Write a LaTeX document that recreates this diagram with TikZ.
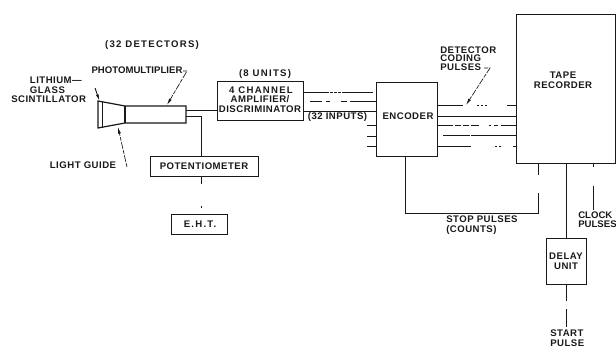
\documentclass[tikz,border=0pt]{standalone}
\usepackage{fontspec}
\setmainfont{Liberation Sans}
\usetikzlibrary{arrows.meta,positioning,calc}
\definecolor{ink}{RGB}{25,25,25}
\newcommand{\labfont}[1]{\fontsize{7.2}{7.3}\selectfont\bfseries\addfontfeature{LetterSpace=#1}}
\tikzset{
  blockbox/.style={draw=ink,line width=0.7pt,inner sep=0pt,align=center,font=\labfont{5},text=ink},
  lab/.style={inner sep=0pt,align=left,font=\labfont{5},text=ink},
  widelab/.style={lab,font=\labfont{13}},
  tightlab/.style={lab,font=\labfont{0}},
  wire/.style={draw=ink,line width=0.7pt},
  pointer/.style={wire,line width=0.5pt,dash pattern=on 3pt off 1pt on 5pt off 1pt},
  pointertip/.style={-{Latex[length=5pt,width=2.2pt]}},
}
\begin{document}
\begin{tikzpicture}[x=0.75pt,y=-0.75pt]
\useasboundingbox (0,0) rectangle (616,348);

\node[blockbox,minimum width=64.5pt,minimum height=29.25pt] (amp) at (260,100.5) {};
\node[widelab,align=center] (amplab1) at (261,90) {4 CHANNEL};
\node[lab,align=center] (amplab2) at (260,104) {AMPLIFIER/\\DISCRIMINATOR};
\node[blockbox,minimum width=45.75pt,minimum height=55.5pt] (encoder) at (406.5,119) {};
\node[lab,anchor=center] (enclab) at (408,116) {ENCODER};
\node[blockbox,minimum width=74.5pt,minimum height=111.75pt] (tape) at (565.7,88.5) {};
\node[lab,align=center] (tapelab) at (563,80) {TAPE\\RECORDER};
\node[blockbox,minimum width=81pt,minimum height=15pt] (pot) at (204,166) {POTENTIOMETER};
\node[blockbox,minimum width=42pt,minimum height=15pt] (eht) at (199,224) {};
\node[widelab] (ehtlab) at (200,224) {E.H.T.};
\node[blockbox,minimum width=30pt,minimum height=34.5pt] (delay) at (566,261) {DELAY\\UNIT};

% detector
\coordinate (sca) at (98,101);
\coordinate (scb) at (98,128);
\coordinate (sci) at (102,101);
\coordinate (scj) at (102,128);
\coordinate (tba) at (125,106);
\coordinate (tbb) at (125,123);
\coordinate (tbc) at (186,106);
\coordinate (tbd) at (186,123);
\draw[wire,line width=0.9pt] (sca) -- (tba) -- (tbc) -- (tbd) -- (tbb) -- (scb) -- cycle;
\draw[wire] (sci) -- (scj);
\draw[wire,line width=0.9pt] (tba) -- (tbb);

\node[widelab] (dets) at (152,45) {(32 DETECTORS)};
\node[tightlab] (pm) at (137,70) {PHOTOMULTIPLIER};
\node[lab,anchor=north west] (scint) at (11,76.5) {\hspace*{14pt}LITHIUM---\\\hspace*{14pt}GLASS\\SCINTILLATOR};
\node[lab] (lg) at (83,165.5) {LIGHT GUIDE};
\node[widelab] (units) at (265,74) {(8 UNITS)};
\node[lab] (inputs) at (337.5,117) {(32 INPUTS)};
\node[lab,anchor=north west] (coding) at (440,46.5) {DETECTOR\\[-0.9pt]CODING\\[-0.9pt]PULSES};
\node[lab,anchor=north west] (stop) at (446,215.5) {STOP PULSES\\(COUNTS)};
\node[tightlab,anchor=north west] (clock) at (578,211.5) {CLOCK\\[-0.5pt]PULSES};
\node[lab,anchor=north west] (start) at (550,330) {START\\[-0.5pt]PULSE};

% pointers
\coordinate (scp) at (95,88);
\coordinate (lgp) at (127,167);
\coordinate (pmp) at (187,71);
\coordinate (pmq) at (183,71);
\coordinate (cdp) at (490,68);
\coordinate (cdq) at (484,68);
\draw[wire,pointertip] (scp) -- (99.5,101);
\draw[pointer,pointertip] (lgp) -- (118,127);
\draw[pointer,pointertip] (pmq) -- (pmp) -- (167,105);
\draw[pointer,pointertip] (cdq) -- (cdp) -- (466,105);

% detector to amplifier and potentiometer
\draw[wire] (tbc |- 0,110.5) -- (amp.west |- 0,110.5);
\coordinate (potin) at (201,116);
\coordinate (ehta) at (201,184);
\coordinate (ehtb) at (201,206);
\coordinate (ehtc) at (201,208);
\draw[wire] (tbc |- potin) -- (potin) -- (potin |- pot.north);
\draw[wire] (potin |- pot.south) -- (ehta);
\draw[wire] (ehtb) -- (ehtc);

% amplifier to encoder
\draw[wire,dash pattern=on 19pt off 1pt on 2pt off 1pt on 2pt off 1pt on 2pt off 1pt on 23pt off 3pt on 40pt] (amp.east |- 0,92) -- (encoder.west |- 0,92);
\draw[wire,dash pattern=on 9pt off 3pt on 3pt off 8pt on 5pt off 2pt on 40pt] (310,101) -- (encoder.west |- 0,101);
\draw[wire] (amp.east |- 0,111) -- (encoder.west |- 0,111);
\draw[wire] (367,125) -- (encoder.west |- 0,125);
\draw[wire] (367,136) -- (encoder.west |- 0,136);
\draw[wire] (367,146) -- (encoder.west |- 0,146);

% encoder to tape recorder
\draw[wire,dash pattern=on 19.5pt off 10.5pt on 1.5pt off 1.5pt on 1.5pt off 1.5pt on 1.5pt off 15pt on 40pt] (encoder.east |- 0,105) -- (tape.west |- 0,105);
\draw[wire] (encoder.east |- 0,116) -- (tape.west |- 0,116);
\draw[wire,dash pattern=on 12pt off 1pt on 5pt off 1pt on 5pt off 1pt on 6pt off 7.5pt on 2pt off 2pt on 3pt off 2pt on 40pt] (encoder.east |- 0,125) -- (tape.west |- 0,125);
\draw[wire,dash pattern=on 0.5pt off 4pt on 20pt off 1pt on 40pt] (encoder.east |- 0,135) -- (tape.west |- 0,135);
\draw[wire,dash pattern=on 25.5pt off 18pt on 1.5pt off 1.5pt on 1.5pt off 9pt on 40pt] (encoder.east |- 0,146) -- (tape.west |- 0,146);

% stop, delay, clock, start
\coordinate (stopa) at (405,213.5);
\coordinate (stopb) at (538,213.5);
\coordinate (stopc) at (538,193);
\coordinate (stopd) at (538,175);
\draw[wire] (stopa |- encoder.south) -- (stopa) -- (stopb) -- (stopc);
\draw[wire] (stopb |- tape.south) -- (stopd);
\draw[wire] (delay.north |- tape.south) -- (delay.north);
\coordinate (clk) at (593,210);
\coordinate (clkb) at (593,186);
\coordinate (clkc) at (593,167);
\draw[wire] (clk |- tape.south) -- (clkc);
\draw[wire] (clkb) -- (clk);
\coordinate (strt) at (566,327);
\coordinate (strta) at (566,301);
\coordinate (strtb) at (566,309);
\draw[wire] (delay.south) -- (strta);
\draw[wire] (strtb) -- (strt);
\end{tikzpicture}
\end{document}
